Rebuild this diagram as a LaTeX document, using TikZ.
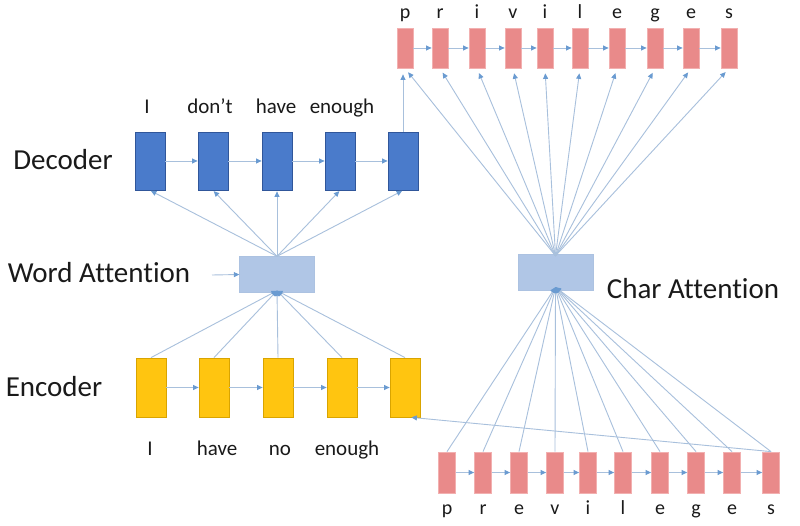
\documentclass[tikz,border=0pt]{standalone}
\usepackage{fontspec}
\setmainfont{Carlito}[Ligatures=NoCommon]
\usetikzlibrary{arrows.meta}
\definecolor{lnc}{HTML}{A8C0DC}
\definecolor{ahc}{HTML}{6A9BD1}
\definecolor{bluef}{HTML}{4A7BCB}
\definecolor{blued}{HTML}{30569A}
\definecolor{yelf}{HTML}{FFC510}
\definecolor{yeld}{HTML}{D9A400}
\definecolor{pinkf}{HTML}{E98A8A}
\definecolor{pinkd}{HTML}{F2B0B0}
\definecolor{attf}{HTML}{B0C6E6}
\definecolor{txt}{HTML}{1A1A1A}
\begin{document}
\begin{tikzpicture}[x=1pt,y=-1pt,
  decbox/.style={draw=blued, fill=bluef, minimum width=30pt, minimum height=58pt, inner sep=0pt, line width=0.8pt},
  encbox/.style={draw=yeld, fill=yelf, minimum width=30pt, minimum height=59pt, inner sep=0pt, line width=0.8pt},
  topch/.style={draw=pinkd, fill=pinkf, minimum width=16pt, minimum height=40pt, inner sep=0pt, line width=0.8pt},
  botch/.style={draw=pinkd, fill=pinkf, minimum width=17pt, minimum height=41pt, inner sep=0pt, line width=0.8pt},
  attbox/.style={draw=attf!90!black!20!attf, fill=attf, minimum width=75pt, minimum height=36pt, inner sep=0pt},
  arr/.style={draw=lnc, line width=0.9pt, -{Triangle[length=5.5pt,width=5pt,color=ahc]}},
  wordlbl/.style={font=\fontsize{21}{21}\selectfont, text=txt, inner sep=0pt},
  charlbl/.style={font=\fontsize{20}{20}\selectfont, text=txt, inner sep=0pt},
  biglbl/.style={font=\fontsize{29}{29}\selectfont, text=txt, inner sep=0pt}]
\useasboundingbox (0,0) rectangle (800,526);
\fill[white] (0,0) rectangle (800,526);

% attention boxes
\node[attbox] (wa) at (277,274.5) {};
\node[attbox, minimum height=36pt] (ca) at (555.5,272) {};

% decoder
\foreach \x [count=\i] in {150,213,277,340,403}
  \node[decbox] (d\i) at (\x,161) {};
\foreach \x/\w [count=\i] in {147/I,210/don’t,276/have,342/enough}
  \node[wordlbl, anchor=base] (dw\i) at (\x,114) {\w};
\foreach \i/\j in {1/2,2/3,3/4,4/5}
  \draw[arr] (d\i.east) -- (d\j.west);

% encoder
\foreach \x [count=\i] in {151,214,278,342,405}
  \node[encbox] (e\i) at (\x,387.5) {};
\foreach \x/\w [count=\i] in {150/I,217/have,280/no,347/enough}
  \node[wordlbl, anchor=base] (ew\i) at (\x,455) {\w};
\foreach \i/\j in {1/2,2/3,3/4,4/5}
  \draw[arr] (e\i.east) -- (e\j.west);

% top characters
\foreach \x/\l [count=\i] in {405/p,440/r,477/i,513/v,545/i,580/l,617/e,655/g,691/e,729/s}
  {\node[topch] (t\i) at (\x,48) {};
   \node[charlbl, anchor=base] (tl\i) at (\x,19) {\l};}
\foreach \i/\j in {1/2,2/3,3/4,4/5,5/6,6/7,7/8,8/9,9/10}
  \draw[arr] (t\i.east) -- (t\j.west);

% bottom characters
\foreach \x/\l [count=\i] in {447/p,483/r,519/e,555/v,588/i,623/l,660/e,696/g,732/e,771/s}
  {\node[botch] (b\i) at (\x,472.5) {};
   \node[charlbl, anchor=base] (bl\i) at (\x,514) {\l};}
\foreach \i/\j in {1/2,2/3,3/4,4/5,5/6,6/7,7/8,8/9,9/10}
  \draw[arr] (b\i.east) -- (b\j.west);

% side labels
\node[biglbl] (declbl) at (63,160) {Decoder};
\node[biglbl] (wordlbl) at (99,273) {Word Attention};
\node[biglbl] (enclbl) at (54,387) {Encoder};
\node[biglbl] (charlbl) at (693,289) {Char Attention};

% word attention connections
\coordinate (wain) at (212,275);
\draw[arr] (wain) -- (wa.west);
\foreach \i in {1,...,5}
  \draw[arr, shorten >=1pt] (wa.north) -- (d\i.south);
\foreach \i in {1,...,5}
  \draw[arr] (e\i.north) -- ([yshift=2pt]wa.south);

% char attention connections
\foreach \i in {1,...,10}
  \draw[arr, shorten >=5pt] ([yshift=-2pt]ca.north) -- (t\i.south);
\foreach \i in {1,...,10}
  \draw[arr] (b\i.north) -- ([yshift=3pt]ca.south);

% decoder to top chars, bottom chars to encoder
\draw[arr, shorten >=6pt] (d5.north) -- (d5.north |- t1.south);
\draw[arr] (b10.north) -- ([xshift=-9pt]e5.south east);
\end{tikzpicture}
\end{document}
